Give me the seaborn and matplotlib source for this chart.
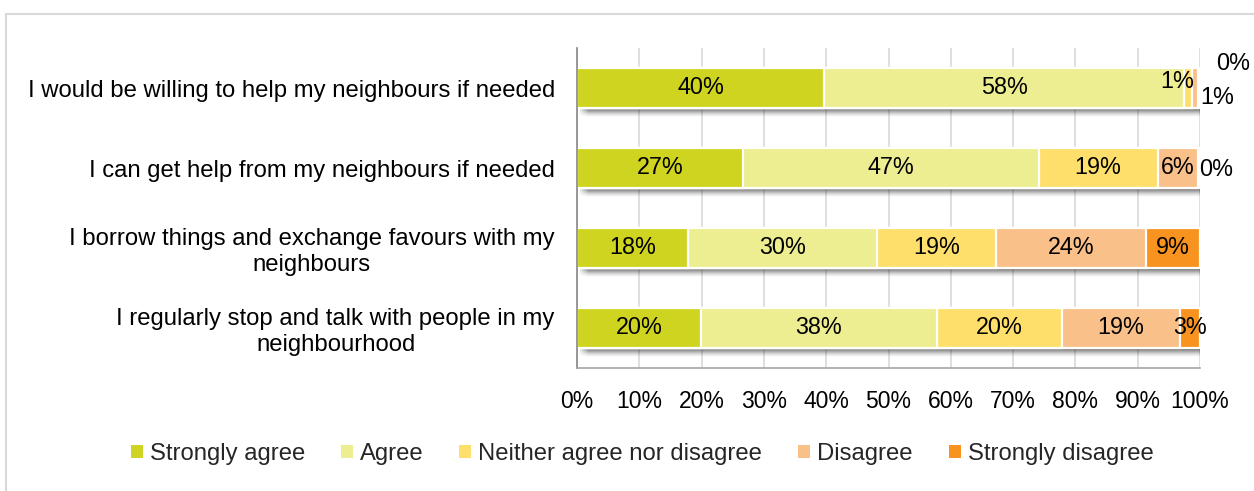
import numpy as np
import pandas as pd
import matplotlib
matplotlib.use("Agg")
import matplotlib.pyplot as plt
from matplotlib.patches import Patch, Rectangle
import seaborn as sns

# Survey statements and response shares (%)
statements = [
    "I would be willing to help my neighbours if needed",
    "I can get help from my neighbours if needed",
    "I borrow things and exchange favours with my\nneighbours",
    "I regularly stop and talk with people in my\nneighbourhood",
]
responses = ["Strongly agree", "Agree", "Neither agree nor disagree",
             "Disagree", "Strongly disagree"]
strongly_agree = [39.7, 26.7, 17.8, 19.9]
agree = [57.7, 47.4, 30.4, 37.9]
neither = [1.3, 19.1, 19.0, 20.0]
disagree = [1.0, 6.4, 24.2, 19.0]
strongly_disagree = [0.3, 0.4, 8.6, 3.2]
colors = ["#CFD420", "#EDED91", "#FFDF6B", "#FAC08A", "#F7931E"]
tick_values = [0, 10, 20, 30, 40, 50, 60, 70, 80, 90, 100]

series = [strongly_agree, agree, neither, disagree, strongly_disagree]
df = pd.DataFrame({r: s for r, s in zip(responses, series)}, index=statements)
cum = df.cumsum(axis=1)

sns.set_theme(style="white")
plt.rcParams["font.family"] = ["Liberation Sans", "DejaVu Sans"]

W, H = 1254, 491
fig = plt.figure(figsize=(W / 100, H / 100), dpi=100)
ax = fig.add_axes([577 / W, 1 - 368 / H, (1200 - 577) / W, (368 - 48) / H])

# light outer frame
fig.patches.append(Rectangle((6 / W, -0.2), 1.2, 1.2 - 14 / H,
                             transform=fig.transFigure, fill=False,
                             edgecolor="#D9D9D9", linewidth=1.5, zorder=0))

bar_h = 0.5
px_y = 1 / 80.0          # one pixel in category units
px_x = 100 / 623.0       # one pixel in percent units

# soft drop shadow under each bar: a vertical fade with feathered ends
totals = df.sum(axis=1).values
shadow_px = 10
for i, tot in enumerate(totals):
    ncols = int(round(tot / px_x)) + 2
    t = np.linspace(0, 1, shadow_px)[:, None]
    vert = 0.6 * (1 - t) ** 1.5
    xs = np.arange(ncols)[None, :]
    horiz = np.clip((xs - 1) / 10.0, 0, 1) * np.clip((ncols - xs) / 3.0, 0, 1)
    rgba = np.zeros((shadow_px, ncols, 4))
    rgba[..., 3] = vert * horiz
    y_near = i + bar_h / 2
    ax.imshow(rgba, extent=(0, tot + 2 * px_x, y_near + shadow_px * px_y, y_near),
              aspect="auto", interpolation="bilinear", zorder=1.5)

# stacked bars drawn as cumulative layers from the right
for r, c in zip(responses[::-1], colors[::-1]):
    sns.barplot(x=cum[r].values, y=statements, color=c, orient="h",
                width=bar_h, edgecolor="white", linewidth=1.6, ax=ax,
                saturation=1, zorder=2)

label_fs = 16.8
# data labels (small slices are nudged outside the bar)
nudges = {(0, 2): (-11, 7), (0, 3): (22, -10), (0, 4): (34, 25), (1, 4): (17, -2)}
for i in range(len(statements)):
    left = 0.0
    for j, r in enumerate(responses):
        v = df.iloc[i, j]
        mid = left + v / 2
        dx, dy = nudges.get((i, j), (0, 0))
        ax.annotate(f"{v:.0f}%", xy=(mid, i), xytext=(dx, dy),
                    textcoords="offset pixels", ha="center", va="center",
                    fontsize=label_fs, color="#000000", zorder=5,
                    annotation_clip=False)
        left += v

ax.set_xlim(0, 100)
ax.set_ylim(len(statements) - 0.5, -0.5)
ax.set_xticks(tick_values)
ax.set_xticklabels([f"{t}%" for t in tick_values])
ax.xaxis.grid(True, color="#D9D9D9", linewidth=1.2)
ax.yaxis.grid(False)
ax.set_axisbelow(True)
ax.tick_params(axis="x", length=0, pad=15.5, labelsize=16.5, labelcolor="#000000")
ax.tick_params(axis="y", length=0, pad=16, labelsize=17.2, labelcolor="#000000")
for lab in ax.get_yticklabels():
    lab.set_multialignment("center")
ax.set_xlabel("")
ax.set_ylabel("")
for s in ["top", "right"]:
    ax.spines[s].set_visible(False)
ax.spines["left"].set_color("#868686")
ax.spines["bottom"].set_color("#A6A6A6")
ax.spines["left"].set_linewidth(1.2)
ax.spines["bottom"].set_linewidth(1.2)

handles = [Patch(facecolor=c, edgecolor="none", label=r) for r, c in zip(responses, colors)]
fig.legend(handles=handles, loc="center", bbox_to_anchor=(642 / W, 1 - 454 / H),
           ncol=5, frameon=False, fontsize=17.2, handlelength=0.5, handleheight=0.5,
           handletextpad=0.3, columnspacing=1.5)

fig.savefig("out.png", dpi=100)
